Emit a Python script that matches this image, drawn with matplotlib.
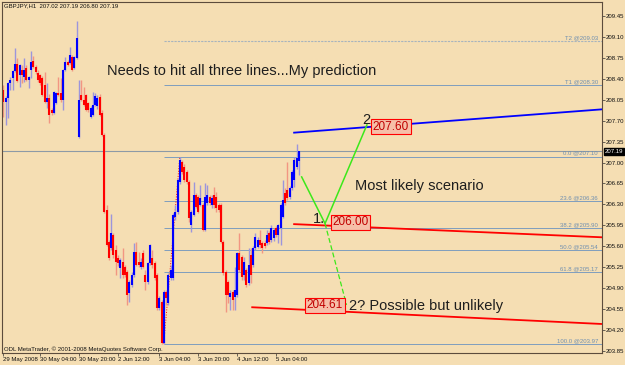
import numpy as np
import matplotlib.pyplot as plt
from matplotlib.transforms import blended_transform_factory

plt.rcParams['font.family'] = ['Liberation Sans', 'DejaVu Sans']

# GBPJPY H1 bars, 29 May - 5 Jun 2008
opens = [208.21, 208.01, 208.08, 208.33, 208.41, 208.53, 208.65, 208.46, 208.55, 208.43,
         208.58, 208.38, 208.55, 208.70, 208.60, 208.50, 208.46, 208.41, 208.30, 208.01,
         208.08, 207.88, 207.83, 208.00, 208.16, 208.16, 208.05, 208.55, 208.68, 208.67,
         208.77, 208.58, 208.75, 207.43, 208.13, 208.05, 208.13, 208.00, 207.76, 207.80,
         207.96, 207.95, 208.10, 207.83, 207.46, 206.21, 205.67, 205.57, 205.79, 205.54,
         205.40, 205.24, 205.34, 205.25, 205.17, 204.82, 204.95, 205.12, 205.50, 205.34,
         205.25, 205.49, 205.12, 205.00, 205.32, 205.40, 205.32, 205.12, 204.57, 204.67,
         203.98, 204.84, 204.65, 205.07, 205.07, 206.09, 206.17, 206.68, 207.01, 206.93,
         206.84, 206.68, 205.96, 206.12, 206.46, 206.42, 206.29, 206.29, 205.87, 206.32,
         206.42, 206.29, 206.46, 206.42, 206.29, 206.29, 205.67, 205.17, 205.00, 204.75,
         204.84, 204.75, 204.79, 205.49, 205.42, 205.12, 205.20, 204.99, 205.45, 205.29,
         205.57, 205.59, 205.71, 205.66, 205.66, 205.66, 205.82, 205.71, 205.74, 205.91,
         205.79, 205.91, 206.09, 206.49, 206.54, 206.42, 206.58, 206.71, 206.93, 207.02]
highs = [208.30, 208.11, 208.35, 208.43, 208.55, 208.92, 208.75, 208.65, 208.63, 208.75,
         208.63, 208.45, 208.87, 208.78, 208.63, 208.55, 208.48, 208.45, 208.51, 208.33,
         208.15, 207.91, 208.20, 208.18, 208.43, 208.41, 208.56, 208.77, 208.72, 208.93,
         208.80, 208.78, 209.37, 208.38, 208.38, 208.26, 208.15, 208.01, 207.95, 208.18,
         208.16, 208.13, 208.15, 207.88, 207.49, 206.29, 205.71, 206.14, 205.82, 205.62,
         205.45, 205.40, 205.57, 205.29, 205.20, 205.04, 205.17, 205.66, 205.67, 205.50,
         205.40, 205.54, 205.20, 205.34, 205.64, 205.54, 205.35, 205.15, 204.77, 204.70,
         204.87, 204.87, 205.15, 205.29, 206.16, 206.29, 206.74, 207.10, 207.04, 206.98,
         206.88, 206.71, 206.21, 206.68, 206.49, 206.46, 206.62, 206.32, 206.66, 206.62,
         206.46, 206.46, 206.59, 206.51, 206.32, 206.32, 205.71, 205.20, 205.04, 204.87,
         204.87, 205.25, 205.50, 205.82, 205.45, 205.42, 205.24, 205.57, 205.57, 205.60,
         205.82, 205.76, 205.87, 205.69, 205.71, 205.87, 205.86, 205.96, 205.91, 205.94,
         205.97, 206.32, 206.71, 206.58, 207.01, 206.61, 206.88, 207.09, 207.31, 207.19]
lows = [207.76, 207.63, 207.75, 208.21, 208.21, 208.51, 208.35, 208.26, 208.33, 208.35,
        208.36, 208.25, 208.41, 208.58, 208.48, 208.35, 208.30, 208.11, 208.00, 207.91,
        207.66, 207.80, 207.81, 207.98, 208.11, 208.01, 207.88, 208.53, 208.61, 208.65,
        208.53, 208.56, 208.73, 207.41, 208.03, 207.95, 207.86, 207.85, 207.75, 207.78,
        207.95, 207.90, 207.78, 207.44, 206.16, 205.60, 205.37, 205.54, 205.40, 205.12,
        205.27, 205.07, 205.07, 205.09, 204.62, 204.67, 204.92, 205.09, 205.27, 205.25,
        205.22, 205.24, 204.87, 204.97, 205.29, 205.24, 205.04, 204.53, 204.53, 203.97,
        203.97, 204.62, 204.62, 205.04, 205.04, 206.04, 206.14, 206.64, 206.81, 206.68,
        206.64, 206.01, 205.84, 206.11, 206.24, 206.16, 206.27, 205.86, 205.86, 206.29,
        206.29, 206.24, 206.24, 206.17, 206.17, 205.66, 205.12, 204.50, 204.65, 204.53,
        204.53, 204.53, 204.75, 205.17, 205.04, 205.04, 204.92, 204.95, 204.99, 205.25,
        205.54, 205.57, 205.57, 205.49, 205.57, 205.62, 205.64, 205.67, 205.69, 205.76,
        205.66, 205.62, 206.07, 206.29, 206.37, 206.39, 206.54, 206.59, 206.89, 206.80]
closes = [208.01, 208.08, 208.33, 208.38, 208.53, 208.65, 208.36, 208.63, 208.46, 208.55,
          208.38, 208.43, 208.68, 208.60, 208.51, 208.38, 208.33, 208.13, 208.01, 208.08,
          207.80, 207.83, 208.18, 208.16, 208.13, 208.05, 208.55, 208.68, 208.63, 208.80,
          208.55, 208.77, 209.08, 208.05, 208.05, 207.96, 207.88, 207.88, 207.91, 207.96,
          208.11, 208.08, 207.80, 207.46, 206.17, 205.62, 205.40, 205.82, 205.45, 205.34,
          205.32, 205.37, 205.12, 205.12, 204.79, 205.00, 205.12, 205.50, 205.29, 205.29,
          205.34, 205.25, 205.00, 205.32, 205.62, 205.29, 205.07, 204.57, 204.73, 203.98,
          204.84, 204.73, 205.12, 205.20, 206.12, 206.17, 206.71, 207.04, 206.84, 206.71,
          206.68, 206.07, 206.17, 206.46, 206.26, 206.17, 206.41, 205.87, 206.42, 206.46,
          206.32, 206.41, 206.29, 206.24, 206.21, 205.67, 205.15, 204.79, 204.79, 204.82,
          204.70, 204.87, 205.49, 205.20, 205.09, 205.34, 204.95, 205.29, 205.12, 205.57,
          205.76, 205.71, 205.62, 205.57, 205.60, 205.79, 205.67, 205.91, 205.87, 205.79,
          205.96, 206.29, 206.37, 206.32, 206.41, 206.58, 206.84, 207.04, 207.08, 207.19]

tick_pos = [0, 16, 33, 50, 68, 85, 102, 119]
tick_labels = ['29 May 2008', '30 May 04:00', '30 May 20:00', '2 Jun 12:00',
               '3 Jun 04:00', '3 Jun 20:00', '4 Jun 12:00', '5 Jun 04:00']
price_ticks = [209.45, 209.10, 208.75, 208.40, 208.05, 207.70, 207.35, 207.00, 206.65,
               206.30, 205.95, 205.60, 205.25, 204.90, 204.55, 204.20, 203.85]

# fibonacci tool, drawn from the 3 Jun low to the 3 Jun high
fib_names = ['T2', 'T1', '0.0', '23.6', '38.2', '50.0', '61.8', '100.0']
fib_prices = [209.03, 208.30, 207.10, 206.36, 205.90, 205.54, 205.17, 203.97]
fib_low_bar, fib_high_bar = 70, 77
bid = 207.19

# trend lines: [x0, price0, x1, price1]
blue_line = [126.9, 207.50, 261.4, 207.89]
red_upper = [126.9, 205.97, 261.4, 205.75]
red_lower = [108.6, 204.58, 261.4, 204.30]
# the forecast path
green_x = [130.2, 140.4, 158.7]
green_y = [206.76, 205.98, 207.63]
dash_x = [140.4, 149.8]
dash_y = [205.98, 204.62]

targets = [207.60, 206.00, 204.61]
target_x = [169.2, 151.5, 140.4]

bg = '#F5DEB3'
fig = plt.figure(figsize=(6.25, 3.65), dpi=100)
fig.patch.set_facecolor(bg)
ax = fig.add_axes([2/625, 12/365, 600/625, 351/365])
ax.set_facecolor(bg)
XMAX = 261.35
ax.set_xlim(-0.655, XMAX)
ax.set_ylim(203.815, 209.685)

o = np.array(opens); h = np.array(highs); l = np.array(lows); c = np.array(closes)
x = np.arange(len(o))
up = c >= o

# horizontal levels
ax.axhline(bid, color='#8D9AA6', lw=0.8, zorder=1)
for name, p in zip(fib_names, fib_prices):
    if name == 'T2':
        ax.hlines(p, fib_low_bar, XMAX, color='#A8B4BE', lw=0.8, ls=(0, (2, 1)), zorder=1)
    else:
        ax.hlines(p, fib_low_bar, XMAX, color='#7F9EBE', lw=0.7, zorder=1)
    ax.text(259.6, p + 0.015, '%s @%.2f' % (name, p), ha='right', va='bottom',
            fontsize=4.3, color='#6F8FB0', zorder=4)
ax.plot([fib_low_bar, fib_high_bar], [lows[fib_low_bar], highs[fib_high_bar]],
        color='red', ls=':', lw=0.7, zorder=1)

# candles
wick_col = np.where(up, '#9C95DC', '#F29682')
body_col = np.where(up, '#0000FF', '#FF0000')
ax.vlines(x, l, h, colors=list(wick_col), lw=1.0, zorder=2)
lo_b = np.minimum(o, c); hi_b = np.maximum(o, c)
hi_b = np.maximum(hi_b, lo_b + 0.015)
ax.vlines(x, lo_b, hi_b, colors=list(body_col), lw=1.5, zorder=2)

# trend lines
for ln, col in [(blue_line, '#0000FF'), (red_upper, '#FF0000'), (red_lower, '#FF0000')]:
    ax.plot([ln[0], ln[2]], [ln[1], ln[3]], color=col, lw=1.3, zorder=3)
ax.plot(green_x, green_y, color='#3CE81A', lw=1.1, zorder=3)
ax.plot(dash_x, dash_y, color='#3CE81A', lw=0.9, ls=(0, (4, 2)), zorder=3)

for tx, tp in zip(target_x, targets):
    ax.text(tx, tp, '%.2f' % tp, ha='center', va='center', fontsize=8.5,
            color='#C00000', zorder=5,
            bbox=dict(boxstyle='square,pad=0.12', fc='#F6BFA8', ec='#FF0000', lw=0.8))

tcol = '#1E1E1E'
ax.text(45.0, 208.46, 'Needs to hit all three lines...My prediction', fontsize=10.5,
        color=tcol, va='baseline', zorder=4)
ax.text(153.5, 206.54, 'Most likely scenario', fontsize=10.5, color=tcol,
        va='baseline', zorder=4)
ax.text(150.9, 204.54, '2? Possible but unlikely', fontsize=10.5, color=tcol,
        va='baseline', zorder=4)
ax.text(135.0, 205.99, '1.', fontsize=10.5, color=tcol, va='baseline', zorder=4)
ax.text(156.5, 207.64, '2', fontsize=10.5, color=tcol, va='baseline', zorder=4)

ax.text(0.003, 0.996, 'GBPJPY,H1  207.02 207.19 206.80 207.19', transform=ax.transAxes,
        ha='left', va='top', fontsize=4.3, color='#101010')
ax.text(0.003, 0.011, 'ODL MetaTrader, \u00a9 2001-2008 MetaQuotes Software Corp.',
        transform=ax.transAxes, ha='left', va='center', fontsize=4.3, color='#101010')

# axes
for s in ax.spines.values():
    s.set_color('#5C4C3C')
    s.set_linewidth(0.8)
ax.yaxis.tick_right()
ax.set_yticks(price_ticks, ['%.2f' % p for p in price_ticks])
ax.set_xticks(tick_pos, tick_labels)
ax.tick_params(axis='both', labelsize=4.3, length=2, width=0.5, color='#303030',
               labelcolor='#101010', pad=1)
for lab in ax.get_xticklabels():
    lab.set_ha('left')

trans = blended_transform_factory(ax.transAxes, ax.transData)
ax.text(1.004, bid, '207.19', transform=trans, ha='left', va='center', fontsize=4.3,
        color='white', zorder=6,
        bbox=dict(boxstyle='square,pad=0.15', fc='black', ec='black'))

fig.savefig('out.png', dpi=100, facecolor=bg)
